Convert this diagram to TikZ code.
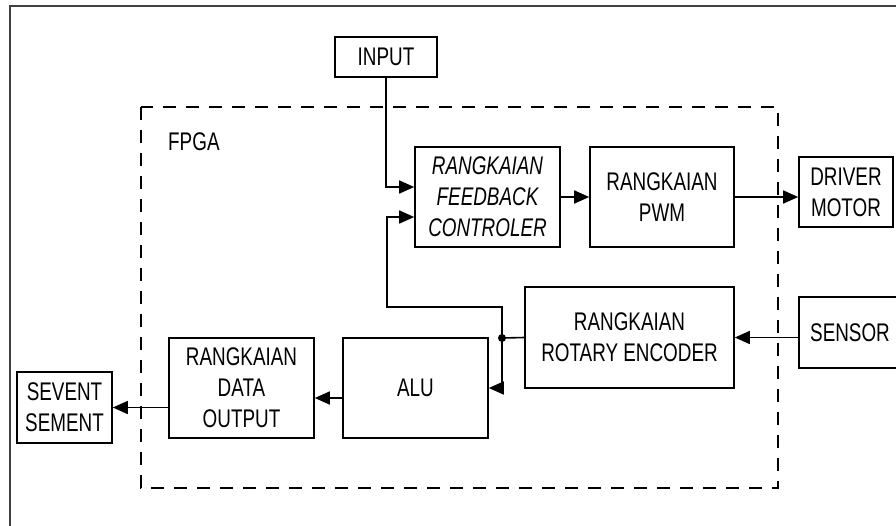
\documentclass[tikz,border=0pt]{standalone}
\usepackage{fontspec}
\setmainfont{Liberation Sans}[FakeStretch=0.74]
\usetikzlibrary{arrows.meta}
\begin{document}
\begin{tikzpicture}[x=1pt,y=-1pt,
  txt/.style={font=\fontsize{25.5}{31}\selectfont},
  blk/.style={draw=black, line width=1.6pt, inner sep=0pt, align=center, txt},
  arr/.style={line width=1.6pt, -{Triangle[length=15pt,width=13pt]}},
  wire/.style={line width=1.6pt}]
\useasboundingbox (0,0) rectangle (896,525);
\fill[white] (0,0) rectangle (896,525);
% outer frame
\draw[black!75, line width=1.8pt] (10,530) -- (10,6) -- (905,6);
% FPGA dashed area
\draw[line width=2.8pt, dash pattern=on 13pt off 10pt] (141,107) rectangle (778,488);
\node[txt, anchor=west, inner sep=0pt] (fpga) at (168,142) {FPGA};
% blocks
\node[blk, minimum width=102pt, minimum height=40pt] (inp) at (386,57) {INPUT};
\node[blk, minimum width=145pt, minimum height=100pt, font=\fontsize{25.5}{31}\selectfont\itshape] (fb) at (487.5,197) {RANGKAIAN\\FEEDBACK\\CONTROLER};
\node[blk, minimum width=144pt, minimum height=100pt] (pwm) at (662,197) {RANGKAIAN\\PWM};
\node[blk, minimum width=94pt, minimum height=70pt] (drv) at (846,192) {DRIVER\\MOTOR};
\node[blk, minimum width=209pt, minimum height=101pt] (enc) at (629.5,337.5) {RANGKAIAN\\ROTARY ENCODER};
\node[blk, minimum width=102pt, minimum height=71pt] (sen) at (850,332.5) {SENSOR};
\node[blk, minimum width=145pt, minimum height=100pt] (alu) at (415.5,388) {ALU};
\node[blk, minimum width=145pt, minimum height=100pt] (dout) at (241.5,388) {RANGKAIAN\\DATA\\OUTPUT};
\node[blk, minimum width=95pt, minimum height=71pt] (sev) at (64.5,407.5) {SEVENT\\SEMENT};
% connectors
\coordinate (j) at (502,338);
\coordinate (fbk) at (387,307);
\draw[arr] (inp.south) |- ([yshift=10pt]fb.west);
\draw[arr] (fb.east) -- (pwm.west);
\draw[arr] (pwm.east) -- (pwm.east -| drv.west);
\draw[arr] (enc.east -| sen.west) -- (enc.east);
\draw[wire] (enc.west) -- (j);
\draw[arr] (j) |- (fbk) |- ([yshift=-20pt]fb.west);
\draw[arr] (j) |- (alu.east);
\fill (j) circle (4pt);
\draw[arr] ([yshift=-10pt]alu.west) -- ([yshift=-10pt]dout.east);
\draw[arr] (sev.east -| dout.west) -- (sev.east);
\end{tikzpicture}
\end{document}
